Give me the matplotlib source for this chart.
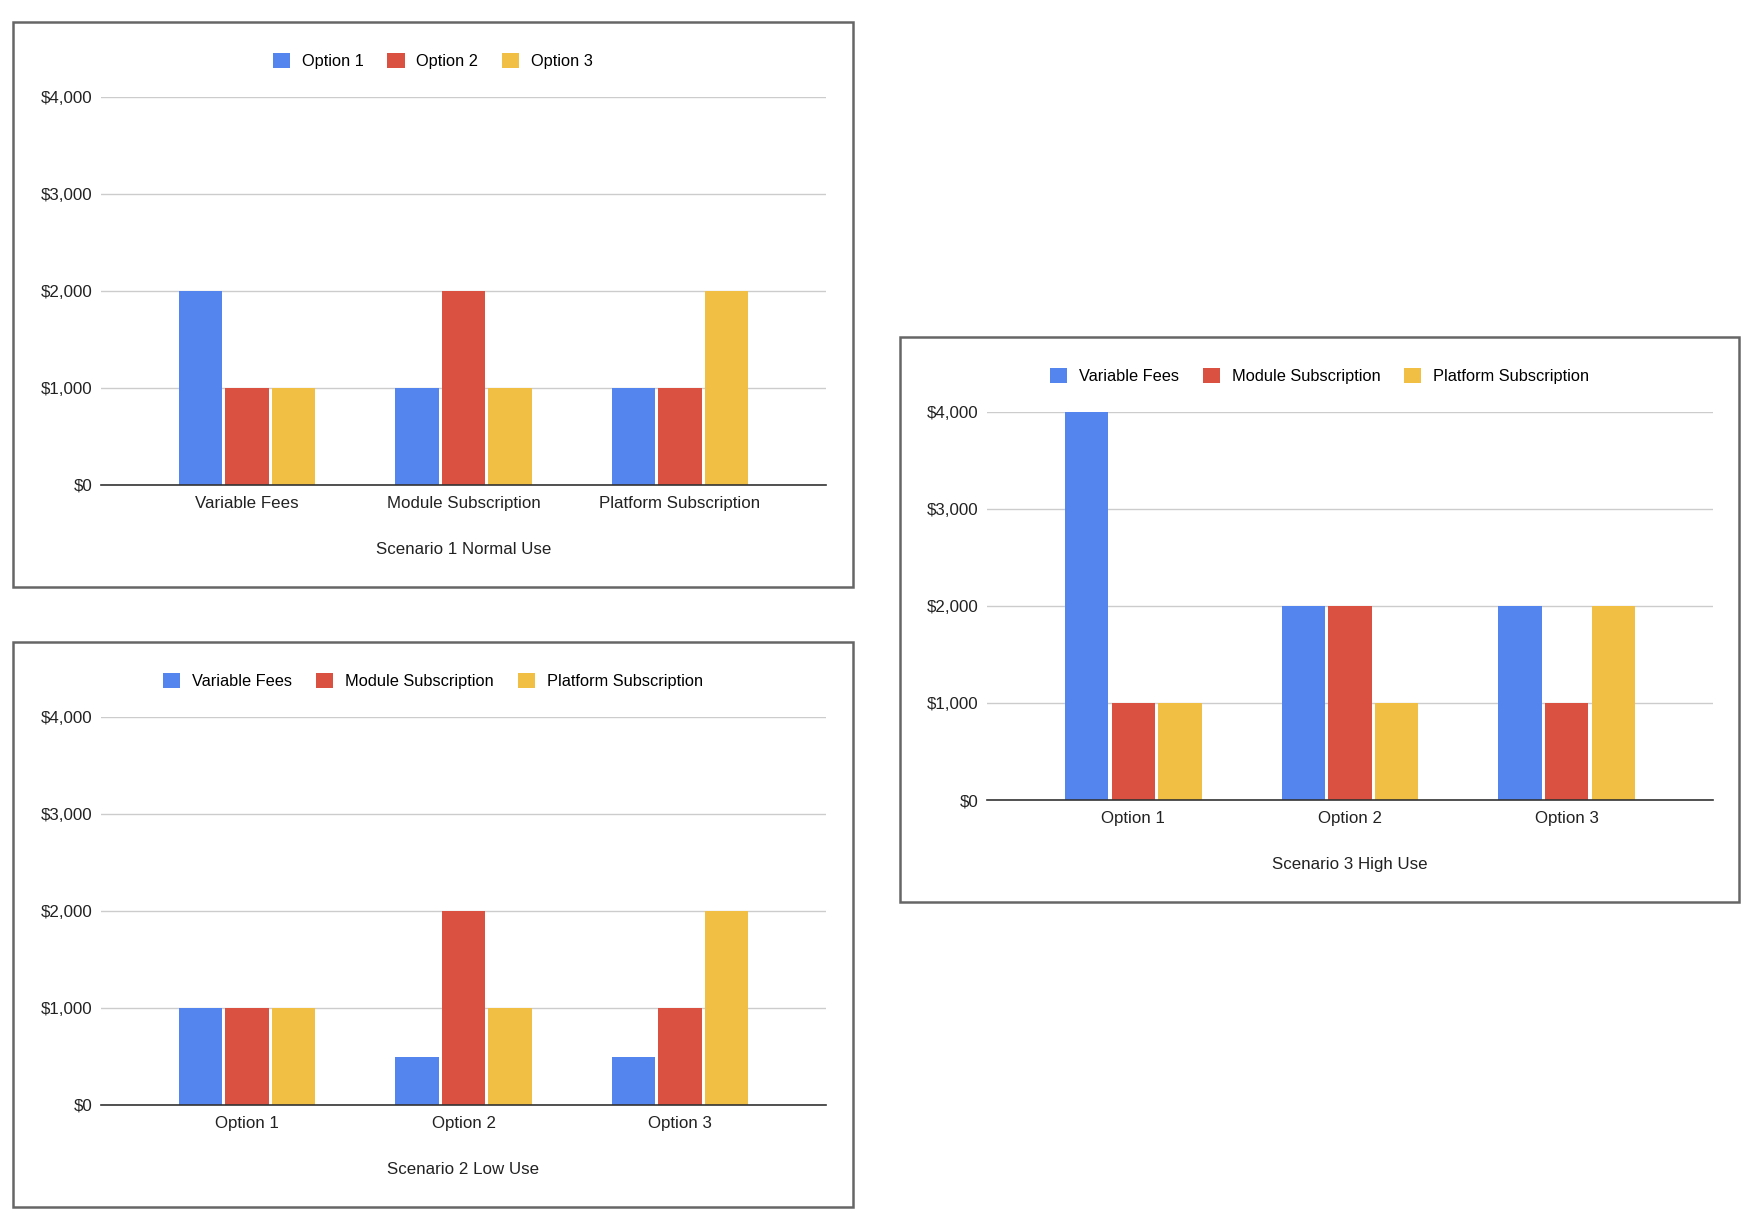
import matplotlib.pyplot as plt
from matplotlib.patches import Rectangle, Patch
from matplotlib.ticker import FuncFormatter

plt.rcParams['font.family'] = ['Liberation Sans', 'DejaVu Sans']

W, H = 1760, 1222

BLUE = '#5484ED'
RED = '#DA5141'
YELLOW = '#F1BF43'
COLORS = [BLUE, RED, YELLOW]

# Scenario 1: categories are cost types, series are options
s1_categories = ['Variable Fees', 'Module Subscription', 'Platform Subscription']
s1_series = ['Option 1', 'Option 2', 'Option 3']
s1_option1 = [2000, 1000, 1000]
s1_option2 = [1000, 2000, 1000]
s1_option3 = [1000, 1000, 2000]

# Scenario 2 and 3: categories are options, series are cost types
option_labels = ['Option 1', 'Option 2', 'Option 3']
cost_series = ['Variable Fees', 'Module Subscription', 'Platform Subscription']
s2_variable = [1000, 500, 500]
s2_module = [1000, 2000, 1000]
s2_platform = [1000, 1000, 2000]

s3_variable = [4000, 2000, 2000]
s3_module = [1000, 2000, 1000]
s3_platform = [1000, 1000, 2000]

y_ticks = [0, 1000, 2000, 3000, 4000]


def px_rect(x0, y0, x1, y1):
    """pixel box (top-left origin) -> figure fraction [l, b, w, h]"""
    return [x0 / W, 1 - y1 / H, (x1 - x0) / W, (y1 - y0) / H]


def draw_chart(fig, box, plot, categories, series_names, series_values, title):
    bx0, by0, bx1, by1 = box
    # outer border of the chart card
    fig.patches.append(Rectangle((bx0 / W, 1 - by1 / H), (bx1 - bx0) / W, (by1 - by0) / H,
                                 transform=fig.transFigure, fill=False,
                                 edgecolor='#666666', linewidth=1.8, zorder=0))

    ax = fig.add_axes(px_rect(*plot))
    step = 0.215
    width = 0.2
    for i, (name, vals) in enumerate(zip(series_names, series_values)):
        xs = [c + (i - 1) * step for c in range(len(categories))]
        ax.bar(xs, vals, width=width, color=COLORS[i], label=name, zorder=2)

    ax.set_xlim(-0.675, 2.675)
    ax.set_ylim(0, 4000)
    ax.set_yticks(y_ticks)
    ax.yaxis.set_major_formatter(FuncFormatter(lambda v, p: '${:,.0f}'.format(v)))
    ax.set_xticks(range(len(categories)))
    ax.set_xticklabels(categories)
    ax.tick_params(axis='both', length=0, labelsize=12.2, colors='#222222')
    ax.tick_params(axis='y', pad=6)
    ax.tick_params(axis='x', pad=8)
    ax.grid(axis='y', color='#cccccc', linewidth=1.0, zorder=0)
    ax.set_axisbelow(True)
    for side in ['top', 'right', 'left']:
        ax.spines[side].set_visible(False)
    ax.spines['bottom'].set_color('#333333')
    ax.spines['bottom'].set_linewidth(1.2)
    ax.spines['bottom'].set_zorder(3)
    ax.set_xlabel(title, fontsize=12.2, color='#222222', labelpad=22)

    handles = [Patch(facecolor=COLORS[i], edgecolor='none', label=n) for i, n in enumerate(series_names)]
    fig.legend(handles=handles, loc='center', ncol=3, frameon=False, fontsize=11.8,
               handlelength=1.05, handleheight=1.05, handletextpad=0.72, columnspacing=1.45,
               bbox_to_anchor=((bx0 + bx1) / 2 / W, 1 - (by0 + 39) / H))
    return ax


fig = plt.figure(figsize=(W / 100, H / 100), dpi=100)

draw_chart(fig, (13, 22, 853, 587), (101, 97, 826, 485),
           s1_categories, s1_series, [s1_option1, s1_option2, s1_option3],
           'Scenario 1 Normal Use')
draw_chart(fig, (13, 642, 853, 1207), (101, 717, 826, 1105),
           option_labels, cost_series, [s2_variable, s2_module, s2_platform],
           'Scenario 2 Low Use')
draw_chart(fig, (900, 337, 1739, 902), (987, 412, 1713, 800),
           option_labels, cost_series, [s3_variable, s3_module, s3_platform],
           'Scenario 3 High Use')

fig.savefig('out.png', dpi=100)
